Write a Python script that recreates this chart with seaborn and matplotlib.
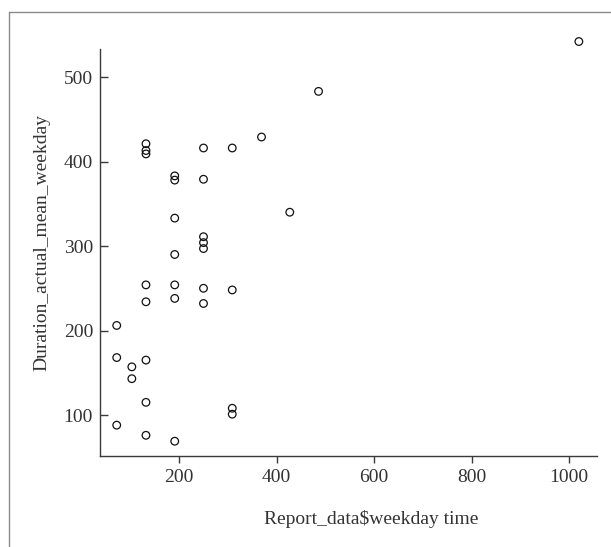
import matplotlib
matplotlib.use("Agg")
import matplotlib.pyplot as plt
import seaborn as sns
import pandas as pd
from matplotlib.lines import Line2D

# Data
weekday_time = [72, 72, 72,
                103, 103,
                132, 132, 132, 132, 132, 132, 132, 132,
                191, 191, 191, 191, 191, 191, 191,
                250, 250, 250, 250, 250, 250, 250,
                309, 309, 309, 309,
                369, 427, 486, 1020]
duration_mean = [206, 168, 88,
                 157, 143,
                 421, 413, 409, 254, 234, 165, 115, 76,
                 383, 378, 333, 290, 254, 238, 69,
                 416, 379, 311, 304, 297, 250, 232,
                 416, 248, 108, 101,
                 429, 340, 483, 542]
x_ticks = [200, 400, 600, 800, 1000]
y_ticks = [100, 200, 300, 400, 500]

df = pd.DataFrame({"Report_data$weekday time": weekday_time,
                   "Duration_actual_mean_weekday": duration_mean})

sns.set_style("white")
plt.rcParams["font.family"] = ["Liberation Serif", "DejaVu Serif"]

W, H = 611, 547
fig = plt.figure(figsize=(W / 100, H / 100), dpi=100)
left_px, right_px, top_px, bottom_px = 100, 596.7, 49.3, 456
ax = fig.add_axes([left_px / W, (H - bottom_px) / H,
                   (right_px - left_px) / W, (bottom_px - top_px) / H])

sns.scatterplot(data=df, x="Report_data$weekday time", y="Duration_actual_mean_weekday",
                ax=ax, marker="o", s=30, facecolor="none", edgecolor="#111111",
                linewidth=0.9, clip_on=False, zorder=3)

ax.set_xlim(37.7, 1056.6)
ax.set_ylim(51.5, 532.8)
ax.set_xticks(x_ticks)
ax.set_yticks(y_ticks)

spine_col = "#3a3a3a"
for side in ["top", "right"]:
    ax.spines[side].set_visible(False)
for side in ["left", "bottom"]:
    ax.spines[side].set_color(spine_col)
    ax.spines[side].set_linewidth(1.0)

ax.tick_params(axis="x", bottom=True, direction="out", length=5.3, width=1.0,
               color=spine_col, labelsize=14, labelcolor="#333333", pad=4)
ax.tick_params(axis="y", left=True, direction="in", length=5.5, width=1.0,
               color=spine_col, labelsize=14, labelcolor="#333333", pad=5)

ax.set_xlabel("Report_data$weekday time", fontsize=14, color="#333333")
ax.set_ylabel("Duration_actual_mean_weekday", fontsize=14, color="#333333")
ax.xaxis.set_label_coords(0.5466, -0.132)
ax.yaxis.set_label_coords(-0.100, 0.524)

# outer frame (clipped at right and bottom)
fig.add_artist(Line2D([8.5 / W, 1.0], [(H - 11.5) / H, (H - 11.5) / H],
                      transform=fig.transFigure, color="#8a8a8a", linewidth=1.0))
fig.add_artist(Line2D([8.5 / W, 8.5 / W], [0.0, (H - 11.5) / H],
                      transform=fig.transFigure, color="#8a8a8a", linewidth=1.0))

fig.savefig("out.png", dpi=100, facecolor="white")
